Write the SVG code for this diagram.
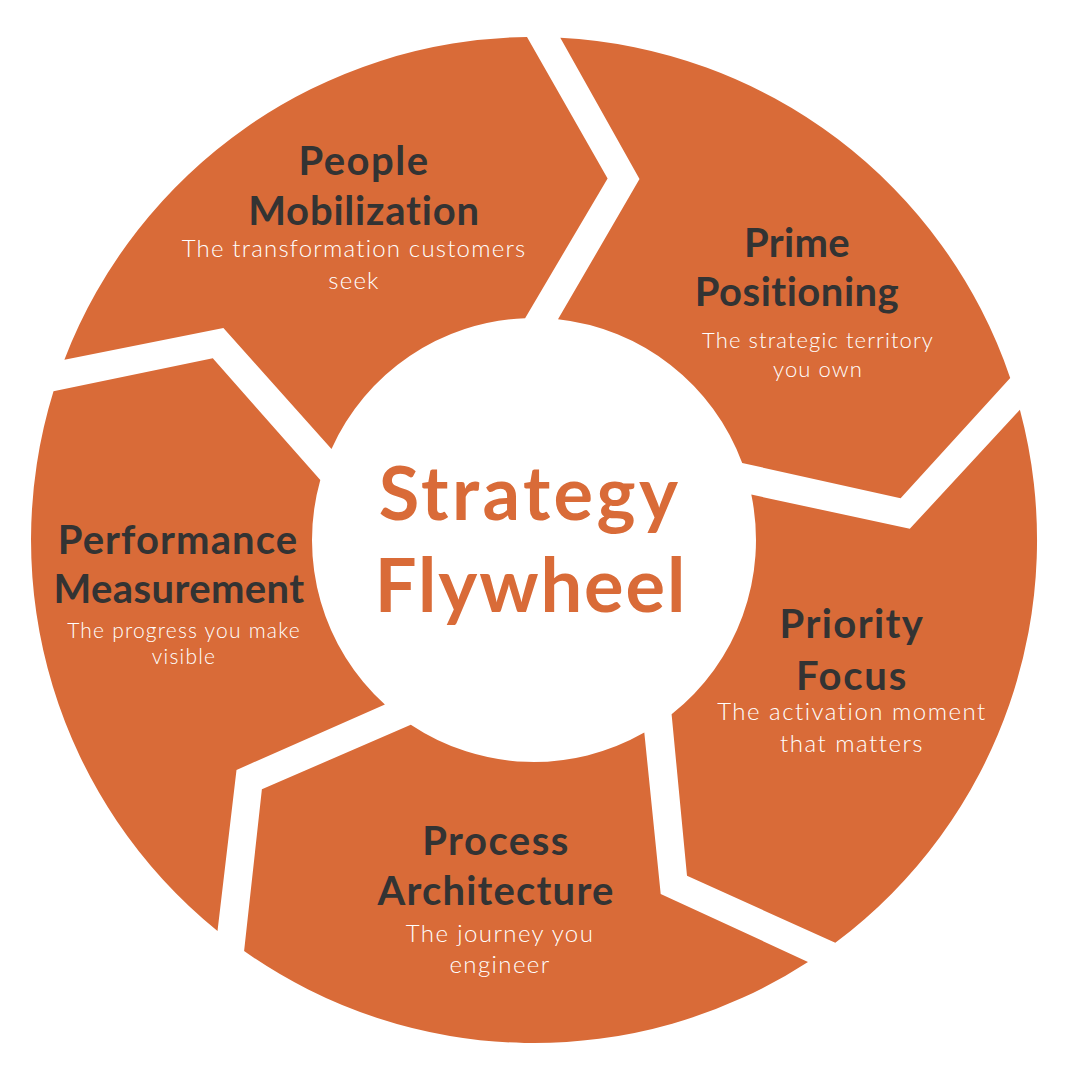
<svg xmlns="http://www.w3.org/2000/svg" width="1080" height="1080" viewBox="0 0 1080 1080">
  <style>
    .seg { fill: #D96B38; }
    .head { font-family: Lato, "Liberation Sans", sans-serif; font-weight: 700; fill: #333333; text-anchor: middle; font-size: 40px; }
    .desc { font-family: Lato, "Liberation Sans", sans-serif; font-weight: 300; fill: #FFFFFF; text-anchor: middle; }
    .title { font-family: Lato, "Liberation Sans", sans-serif; font-weight: 700; fill: #D96B38; text-anchor: middle; font-size: 74px; }
  </style>
  <rect width="1080" height="1080" fill="#FFFFFF"/>
  <g id="connectors"/>
  <g id="people-mobilization">
    <path class="seg" d="M 64.4,359.7 A 503 503 0 0 1 527.0,37.0 L 607.6,178.4 L 525.1,318.2 A 222 222 0 0 0 331.5,449.0 L 223.4,328.1 Z"/>
    <text class="head" x="364" y="175" letter-spacing="1.5">People</text>
    <text class="head" x="364" y="225" letter-spacing="0.8">Mobilization</text>
    <text class="desc" font-size="24" x="354" y="257" letter-spacing="1.2">The transformation customers</text>
    <text class="desc" font-size="24" x="354" y="289" letter-spacing="1.2">seek</text>
  </g>
  <g id="prime-positioning">
    <path class="seg" d="M 560.3,37.7 A 503 503 0 0 1 1010.2,377.9 L 900.6,498.2 L 742.2,463.0 A 222 222 0 0 0 558.0,319.3 L 639.5,179.1 Z"/>
    <text class="head" x="797" y="257" letter-spacing="0.3">Prime</text>
    <text class="head" x="797" y="306" letter-spacing="0.5">Positioning</text>
    <text class="desc" font-size="22" x="818" y="348" letter-spacing="1.1">The strategic territory</text>
    <text class="desc" font-size="22" x="818" y="377" letter-spacing="1.1">you own</text>
  </g>
  <g id="priority-focus">
    <path class="seg" d="M 1019.9,409.8 A 503 503 0 0 1 835.3,942.8 L 687.0,875.8 L 671.6,714.2 A 222 222 0 0 0 751.3,494.6 L 909.8,528.8 Z"/>
    <text class="head" x="852" y="638" letter-spacing="1.4">Priority</text>
    <text class="head" x="852" y="690" letter-spacing="1.8">Focus</text>
    <text class="desc" font-size="24" x="852" y="720" letter-spacing="1.5">The activation moment</text>
    <text class="desc" font-size="24" x="852" y="752" letter-spacing="1.5">that matters</text>
  </g>
  <g id="process-architecture">
    <path class="seg" d="M 808.0,961.9 A 503 503 0 0 1 244.1,951.0 L 261.9,789.3 L 410.8,724.7 A 222 222 0 0 0 644.3,732.6 L 660.7,894.0 Z"/>
    <text class="head" x="496" y="855" letter-spacing="1.5">Process</text>
    <text class="head" x="496" y="905" letter-spacing="1.2">Architecture</text>
    <text class="desc" font-size="24" x="500" y="942" letter-spacing="1.4">The journey you</text>
    <text class="desc" font-size="24" x="500" y="973" letter-spacing="1.4">engineer</text>
  </g>
  <g id="performance-measurement">
    <path class="seg" d="M 217.5,930.9 A 503 503 0 0 1 53.5,391.3 L 212.8,358.3 L 320.3,479.9 A 222 222 0 0 0 384.9,704.5 L 236.5,769.9 Z"/>
    <text class="head" x="178" y="554" letter-spacing="1.1">Performance</text>
    <text class="head" x="179" y="603" letter-spacing="0.4">Measurement</text>
    <text class="desc" font-size="21" x="184" y="638" letter-spacing="1.2">The progress you make</text>
    <text class="desc" font-size="21" x="184" y="664" letter-spacing="1.2">visible</text>
  </g>
  <g id="center-title">
    <text class="title" x="530" y="520" letter-spacing="3.4">Strategy</text>
    <text class="title" x="531" y="612" letter-spacing="1.9">Flywheel</text>
  </g>
</svg>
